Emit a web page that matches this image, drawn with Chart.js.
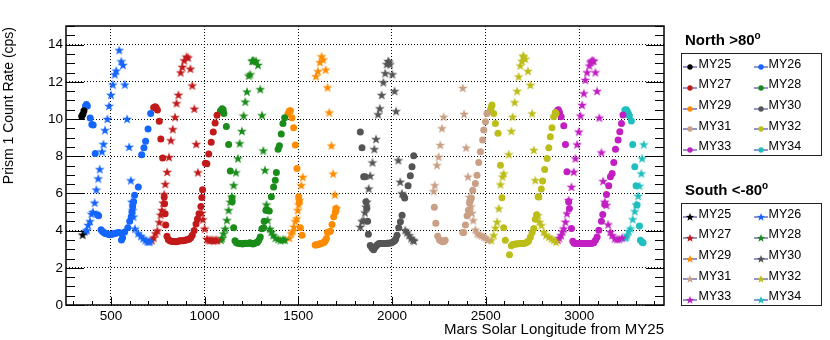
<!DOCTYPE html>
<html>
<head>
<meta charset="utf-8">
<script src="https://cdn.jsdelivr.net/npm/chart.js@4/dist/chart.umd.min.js"></script>
<style>
  body { margin:0; background:#fff; font-family:"Liberation Sans", Arial, Helvetica, sans-serif; }
  #wrap { position:relative; width:830px; height:340px; overflow:hidden; }
  #c { position:absolute; left:0; top:0; }
  .ttl { position:absolute; font-size:15px; line-height:18px; white-space:nowrap; color:#000; }
  .lg-title { position:absolute; font-size:15px; line-height:17px; font-weight:bold; white-space:nowrap; }
  .lg-title span { font-size:10px; position:relative; top:-6px; }
  .lg-box { position:absolute; box-sizing:border-box; border:1px solid #222; background:#fff; }
  .lg-item { position:absolute; font-size:12.5px; line-height:14px; white-space:nowrap; }
  .lg-mk { position:absolute; }
</style>
</head>
<body>
<div id="wrap">
  <canvas id="c" width="830" height="340"></canvas>
  <div class="ttl" id="ytitle" style="width:300px;text-align:right;transform-origin:0 0;transform:translate(0px,327px) rotate(-90deg);font-size:14px;line-height:16px">Prism 1 Count Rate (cps)</div>
  <div class="ttl" style="right:166px;top:320px">Mars Solar Longitude from MY25</div>
  <div id="legend"></div>
</div>
<script>
// ─── Data: [Ls from MY25, Prism 1 count rate] ───
const YEARS  = ['MY25','MY26','MY27','MY28','MY29','MY30','MY31','MY32','MY33','MY34'];
const COLORS = ['#000000','#1565ff','#c21a1a','#1a8c1a','#ff8c00','#555555','#c9a085','#bdbd1a','#c21fc2','#20bfbf'];
const X_TICKS = [500,1000,1500,2000,2500,3000];
const Y_TICKS = [0,2,4,6,8,10,12,14];

// North >80 (circles)
const n25 = [[344,10.15],[350,10.25],[356,10.45]];
const n26 = [[364,10.7],[369,10.78],[374,10.7],[389,10.05],[398,9.7],[405,9.68],[416,8.15],[428,4.85],[434,4.8],[447,4.05],[455,3.95],[462,3.9],[470,3.85],[478,3.83],[486,3.8],[494,3.78],[502,3.8],[510,3.82],[518,3.85],[526,3.86],[535,3.88],[543,3.9],[556,3.5],[562,3.62],[573,3.93],[590,4.15],[600,4.5],[608,4.75],[612,5.0],[616,5.3],[621,5.55],[626,5.9],[646,6.35],[664,8.08],[676,8.45],[685,8.8],[698,9.46],[712,10.29]];
const n27 = [[728,10.62],[736,10.66],[741,10.62],[748,10.48],[758,9.88],[766,8.92],[776,7.9],[784,5.8],[786,5.45],[789,4.9],[792,4.3],[799,3.7],[806,3.52],[814,3.45],[822,3.43],[830,3.42],[838,3.42],[846,3.4],[854,3.42],[862,3.44],[870,3.45],[878,3.45],[886,3.46],[894,3.48],[902,3.5],[910,3.52],[918,3.55],[926,3.62],[934,3.75],[944,4.0],[954,4.35],[962,4.62],[970,4.9],[980,5.3],[985,5.78],[989,6.2],[1004,7.62],[1012,7.6],[1022,8.12],[1035,8.75],[1046,9.3],[1056,9.78],[1066,10.2]];
const n28 = [[1084,10.43],[1093,10.55],[1099,10.5],[1103,10.3],[1116,9.6],[1128,8.63],[1137,7.2],[1146,5.75],[1147,5.55],[1155,4.15],[1162,3.45],[1170,3.35],[1178,3.32],[1186,3.3],[1194,3.3],[1202,3.28],[1210,3.3],[1218,3.32],[1226,3.3],[1234,3.32],[1242,3.35],[1250,3.3],[1258,3.28],[1266,3.32],[1274,3.35],[1282,3.38],[1290,3.5],[1297,3.66],[1306,4.1],[1315,4.15],[1318,4.5],[1327,5.1],[1333,5.1],[1345,5.05],[1356,5.82],[1368,6.35],[1377,6.71],[1383,7.13],[1392,8.38],[1399,8.56],[1409,9.19],[1418,9.76],[1427,10.07]];
const n29 = [[1445,10.3],[1452,10.43],[1458,10.45],[1466,10.07],[1475,9.53],[1484,8.6],[1493,7.34],[1502,5.82],[1505,5.55],[1511,4.15],[1520,3.75],[1590,3.22],[1596,3.23],[1602,3.25],[1608,3.27],[1614,3.28],[1620,3.3],[1626,3.32],[1632,3.35],[1638,3.38],[1644,3.45],[1650,3.57],[1656,3.9],[1662,3.93],[1671,3.97],[1680,4.33],[1689,4.74],[1698,5.0],[1701,5.19]];
const n30 = [[1831,9.3],[1840,8.45],[1849,6.9],[1856,6.9],[1861,5.55],[1866,5.2],[1870,4.5],[1874,3.8],[1884,3.2],[1893,3.07],[1902,2.97],[1910,3.1],[1918,3.2],[1926,3.28],[1934,3.3],[1942,3.3],[1950,3.3],[1958,3.3],[1966,3.3],[1974,3.32],[1982,3.32],[1990,3.33],[1998,3.35],[2006,3.4],[2014,3.45],[2020,3.55],[2027,3.75],[2036,4.15],[2045,4.47],[2054,4.83],[2062,5.87],[2068,5.75],[2086,6.41],[2098,6.95],[2107,7.43],[2116,8.02]];
const n31 = [[2226,5.25],[2234,4.4],[2244,3.7],[2254,3.5],[2262,3.45],[2270,3.4],[2278,3.42],[2284,3.48],[2378,3.9],[2383,3.9],[2392,4.3],[2401,4.8],[2408,5.1],[2414,5.5],[2418,5.6],[2424,5.75],[2431,6.17],[2445,6.53],[2454,6.98],[2463,7.66],[2472,8.24],[2484,8.87],[2490,9.41],[2499,9.85],[2507,10.3]];
const n32 = [[2525,10.48],[2530,10.65],[2534,10.75],[2543,10.3],[2552,9.76],[2566,9.23],[2579,7.52],[2587,5.76],[2596,4.15],[2605,3.48],[2627,2.7],[2637,3.18],[2644,3.25],[2652,3.27],[2660,3.28],[2668,3.28],[2676,3.3],[2684,3.3],[2692,3.3],[2700,3.3],[2708,3.32],[2716,3.35],[2724,3.4],[2730,3.45],[2739,3.66],[2748,3.9],[2757,4.11],[2765,4.61],[2772,4.85],[2780,5.82],[2784,5.8],[2797,6.23],[2804,6.66],[2815,7.29],[2828,7.88],[2837,8.45],[2845,9.05],[2854,9.53],[2863,10.12],[2872,10.35],[2876,10.3]];
const n33 = [[2881,10.43],[2888,10.5],[2894,10.36],[2903,10.12],[2917,9.64],[2926,8.63],[2934,7.16],[2943,5.55],[2947,5.19],[2958,4.11],[2965,3.43],[2972,3.32],[2980,3.3],[2988,3.3],[2996,3.3],[3004,3.3],[3012,3.3],[3020,3.3],[3028,3.3],[3036,3.3],[3044,3.3],[3052,3.3],[3060,3.3],[3068,3.32],[3077,3.35],[3086,3.48],[3095,3.66],[3104,4.02],[3118,4.5],[3125,4.86],[3136,5.4],[3145,5.94],[3157,6.41],[3166,6.89],[3175,7.07],[3184,7.66],[3193,8.38],[3207,8.87],[3216,9.32],[3225,9.76],[3233,10.21]];
const n34 = [[3243,10.48],[3250,10.5],[3255,10.43],[3262,10.3],[3267,10.18],[3278,9.89],[3285,8.63],[3296,7.43],[3303,6.41],[3308,5.37],[3321,4.25],[3326,3.48],[3335,3.39],[3340,3.35]];

// South <-80 (stars)
const s25 = [[349,3.78]];
const s26 = [[362,3.95],[372,4.02],[378,4.3],[388,4.5],[396,4.9],[404,5.0],[413,5.5],[422,6.2],[432,6.8],[440,7.3],[452,8.25],[460,8.65],[468,9.4],[481,10.0],[490,10.7],[500,11.3],[510,11.85],[520,12.4],[528,12.6],[544,13.7],[555,13.1],[564,12.9],[574,11.85],[586,10.0],[597,8.5],[606,6.7],[611,5.55],[616,5.1],[620,4.75],[628,4.1],[645,3.85],[660,3.7],[672,3.58],[684,3.48],[694,3.42],[702,3.4],[708,3.42]];
const s27 = [[718,3.48],[728,3.62],[738,3.85],[748,4.0],[758,4.45],[765,4.85],[772,5.1],[778,5.5],[784,5.95],[790,6.5],[800,7.15],[810,7.95],[820,8.85],[830,9.45],[842,10.1],[850,10.85],[860,11.3],[872,12.5],[881,12.8],[891,13.15],[903,13.35],[912,13.3],[924,12.7],[934,11.8],[945,10.55],[955,8.65],[964,7.13],[984,4.95],[990,4.6],[1000,4.1],[1012,3.55],[1020,3.5],[1028,3.48],[1036,3.5],[1044,3.48],[1052,3.47],[1060,3.5],[1068,3.48]];
const s28 = [[1088,3.5],[1093,3.6],[1101,3.84],[1110,4.1],[1119,4.56],[1128,5.1],[1137,5.55],[1146,5.82],[1155,6.44],[1167,7.13],[1178,7.88],[1187,8.69],[1199,9.35],[1208,10.18],[1217,10.93],[1226,11.47],[1235,12.33],[1244,12.4],[1253,13.12],[1258,13.15],[1263,13.12],[1274,13.12],[1285,12.9],[1297,11.6],[1306,10.2],[1313,8.3],[1322,7.25],[1330,5.4],[1336,4.56],[1348,4.1],[1357,3.93],[1366,3.75],[1378,3.6],[1392,3.54],[1405,3.48],[1418,3.52],[1428,3.5]];
const s29 = [[1452,3.6],[1463,3.85],[1470,3.97],[1477,4.2],[1484,4.5],[1491,4.65],[1497,5.1],[1502,5.4],[1506,5.64],[1516,6.44],[1524,6.88],[1594,12.3],[1605,12.57],[1615,13.05],[1624,13.37],[1633,13.2],[1646,12.65],[1656,11.7],[1665,10.35],[1677,8.57],[1686,7.06],[1695,5.93],[1704,5.2]];
const s30 = [[1831,4.2],[1840,4.5],[1849,4.55],[1856,4.97],[1861,5.28],[1867,5.55],[1876,6.26],[1884,6.95],[1896,7.66],[1906,8.38],[1915,8.92],[1926,10.25],[1935,10.57],[1945,11.29],[1954,11.97],[1964,12.46],[1972,12.95],[1980,13.12],[1984,13.05],[1990,12.94],[2002,12.4],[2014,11.5],[2022,10.42],[2034,7.78],[2044,6.62],[2053,6.0],[2071,4.02],[2080,3.9],[2092,3.75],[2102,3.58],[2112,3.5],[2118,3.45]];
const s31 = [[2222,6.12],[2228,6.44],[2240,7.52],[2249,7.97],[2258,8.6],[2267,9.5],[2276,10.12],[2378,11.67],[2385,10.27],[2396,8.46],[2406,6.9],[2413,5.8],[2422,5.3],[2427,4.95],[2434,4.55],[2445,4.05],[2455,3.85],[2466,3.78],[2478,3.72],[2490,3.66],[2500,3.6],[2512,3.5]];
const s32 = [[2530,3.48],[2543,3.75],[2552,4.15],[2561,4.47],[2570,5.19],[2579,6.48],[2590,6.9],[2596,7.07],[2623,8.1],[2637,9.35],[2644,10.12],[2655,10.9],[2668,11.5],[2676,12.28],[2685,12.87],[2694,13.12],[2700,13.4],[2703,13.35],[2712,13.23],[2726,12.58],[2739,11.83],[2748,10.3],[2757,8.33],[2765,6.71],[2780,4.83],[2787,4.47],[2797,4.29],[2810,3.93],[2822,3.75],[2837,3.66],[2851,3.57],[2863,3.48],[2876,3.39]];
const s33 = [[2885,3.5],[2893,3.6],[2902,3.75],[2910,3.95],[2917,4.11],[2926,4.47],[2934,4.92],[2943,5.64],[2958,6.35],[2970,7.16],[2979,7.88],[2988,8.63],[2997,9.32],[3006,10.18],[3015,10.75],[3024,11.38],[3032,12.1],[3041,12.51],[3054,12.87],[3060,13.05],[3065,13.12],[3071,13.15],[3077,13.12],[3086,12.51],[3095,11.5],[3107,10.07],[3118,8.2],[3127,6.66],[3136,5.55],[3145,5.37],[3154,4.33],[3166,3.93],[3175,3.75],[3189,3.57],[3202,3.54],[3214,3.54],[3228,3.61]];
const s34 = [[3243,3.61],[3250,3.65],[3255,3.75],[3264,3.97],[3273,4.11],[3285,4.61],[3296,5.04],[3303,5.4],[3314,5.87],[3321,6.41],[3331,7.07],[3335,7.88],[3344,8.63]];

const NORTH = [n25,n26,n27,n28,n29,n30,n31,n32,n33,n34];
const SOUTH = [s25,s26,s27,s28,s29,s30,s31,s32,s33,s34];

// ─── filled 5-point star (ROOT marker 29) ───
function starPts(cx, cy, ro, ri) {
  const p = [];
  for (let i = 0; i < 10; i++) {
    const r = i % 2 ? ri : ro, a = -Math.PI/2 + i*Math.PI/5;
    p.push([cx + r*Math.cos(a), cy + r*Math.sin(a)]);
  }
  return p;
}
function starImg(color) {
  const c = document.createElement('canvas');
  c.width = c.height = 12;
  const g = c.getContext('2d');
  g.fillStyle = color;
  g.beginPath();
  starPts(6, 6.4, 5.2, 2.1).forEach(([x,y]) => g.lineTo(x,y));
  g.closePath(); g.fill();
  return c;
}

const toXY = arr => arr.map(([x,y]) => ({x, y}));
const datasets = [];
YEARS.forEach((yr, i) => {
  datasets.push({ label:'N '+yr, data:toXY(NORTH[i]), pointStyle:'circle', pointRadius:3.5,
    backgroundColor:COLORS[i], borderWidth:0, showLine:false });
});
YEARS.forEach((yr, i) => {
  datasets.push({ label:'S '+yr, data:toXY(SOUTH[i]), pointStyle:starImg(COLORS[i]),
    backgroundColor:COLORS[i], borderWidth:0, showLine:false });
});

// ROOT style frame + inward ticks
const frame = {
  id:'frame',
  afterDraw(chart) {
    const { ctx, chartArea:a, scales:{x, y} } = chart;
    ctx.save();
    ctx.strokeStyle = '#000';
    ctx.lineWidth = 1;
    ctx.beginPath();
    for (let v = 300; v <= 3400; v += 100) {
      const px = Math.round(x.getPixelForValue(v)) + 0.5;
      const len = v % 500 === 0 ? 8 : 4;
      ctx.moveTo(px, a.bottom); ctx.lineTo(px, a.bottom - len);
    }
    for (let v = 0; v <= 15; v += 0.5) {
      const py = Math.round(y.getPixelForValue(v)) + 0.5;
      const len = v % 2 === 0 ? 18 : 9;
      ctx.moveTo(a.left, py);  ctx.lineTo(a.left + len, py);
      ctx.moveTo(a.right, py); ctx.lineTo(a.right - len, py);
    }
    ctx.stroke();
    ctx.lineWidth = 1.5;
    ctx.strokeRect(a.left, a.top, a.right - a.left, a.bottom - a.top);
    ctx.restore();
  }
};

const FONT = { family:'"Liberation Sans", Arial, Helvetica, sans-serif', size:13.5 };

new Chart(document.getElementById('c'), {
  type:'scatter',
  data:{ datasets },
  options:{
    responsive:false, animation:false,
    layout:{ padding:{ left:0, right:166, top:26, bottom:0 }, autoPadding:false },
    plugins:{ legend:{ display:false }, tooltip:{ enabled:false } },
    scales:{
      x:{ type:'linear', min:260, max:3452,
        afterBuildTicks: s => { s.ticks = X_TICKS.map(v => ({ value:v })); },
        afterFit: s => { s.height = 35; },
        grid:{ color:'#000', lineWidth:1, drawTicks:false },
        border:{ display:false, dash:[1,2] },
        ticks:{ font:FONT, color:'#000', padding:3, maxRotation:0, autoSkip:false, callback: v => String(v) } },
      y:{ type:'linear', min:0, max:15,
        afterBuildTicks: s => { s.ticks = Y_TICKS.map(v => ({ value:v })); },
        afterFit: s => { s.width = 66; },
        grid:{ color:'#000', lineWidth:1, drawTicks:false },
        border:{ display:false, dash:[1,2] },
        ticks:{ font:FONT, color:'#000', padding:3, autoSkip:false, callback: v => String(v) } }
    }
  },
  plugins:[frame]
});

// ─── Legends (two ROOT-style boxes) ───
function mk(color, star) {
  const shape = star
    ? `<polygon points="${starPts(8, 5.3, 4.3, 1.8).map(p => p.join(',')).join(' ')}" fill="${color}"/>`
    : `<circle cx="8" cy="5" r="2.7" fill="${color}"/>`;
  return `<svg width="16" height="10" viewBox="0 0 16 10"><line x1="1" y1="5" x2="15" y2="5" stroke="#2a2a9a" stroke-width="1"/>${shape}</svg>`;
}
function legendBlock(title, titleTop, boxTop, star) {
  let h = `<div class="lg-title" style="left:685px;top:${titleTop}px">${title}</div>`;
  h += `<div class="lg-box" style="left:681px;top:${boxTop}px;width:141px;height:103px"></div>`;
  YEARS.forEach((yr, i) => {
    const row = Math.floor(i / 2), col = i % 2;
    const cy = boxTop + 10.3 + row * 20.7;
    const mx = col ? 753 : 682, tx = col ? 768.5 : 698.5;
    h += `<div class="lg-mk" style="left:${mx}px;top:${cy - 5}px">${mk(COLORS[i], star)}</div>`;
    h += `<div class="lg-item" style="left:${tx}px;top:${cy - 6.8}px">${yr}</div>`;
  });
  return h;
}
document.getElementById('legend').innerHTML =
  legendBlock('North &gt;80<span>o</span>', 31.3, 53, false) +
  legendBlock('South &lt;-80<span>o</span>', 181.3, 203, true);
</script>
</body>
</html>
